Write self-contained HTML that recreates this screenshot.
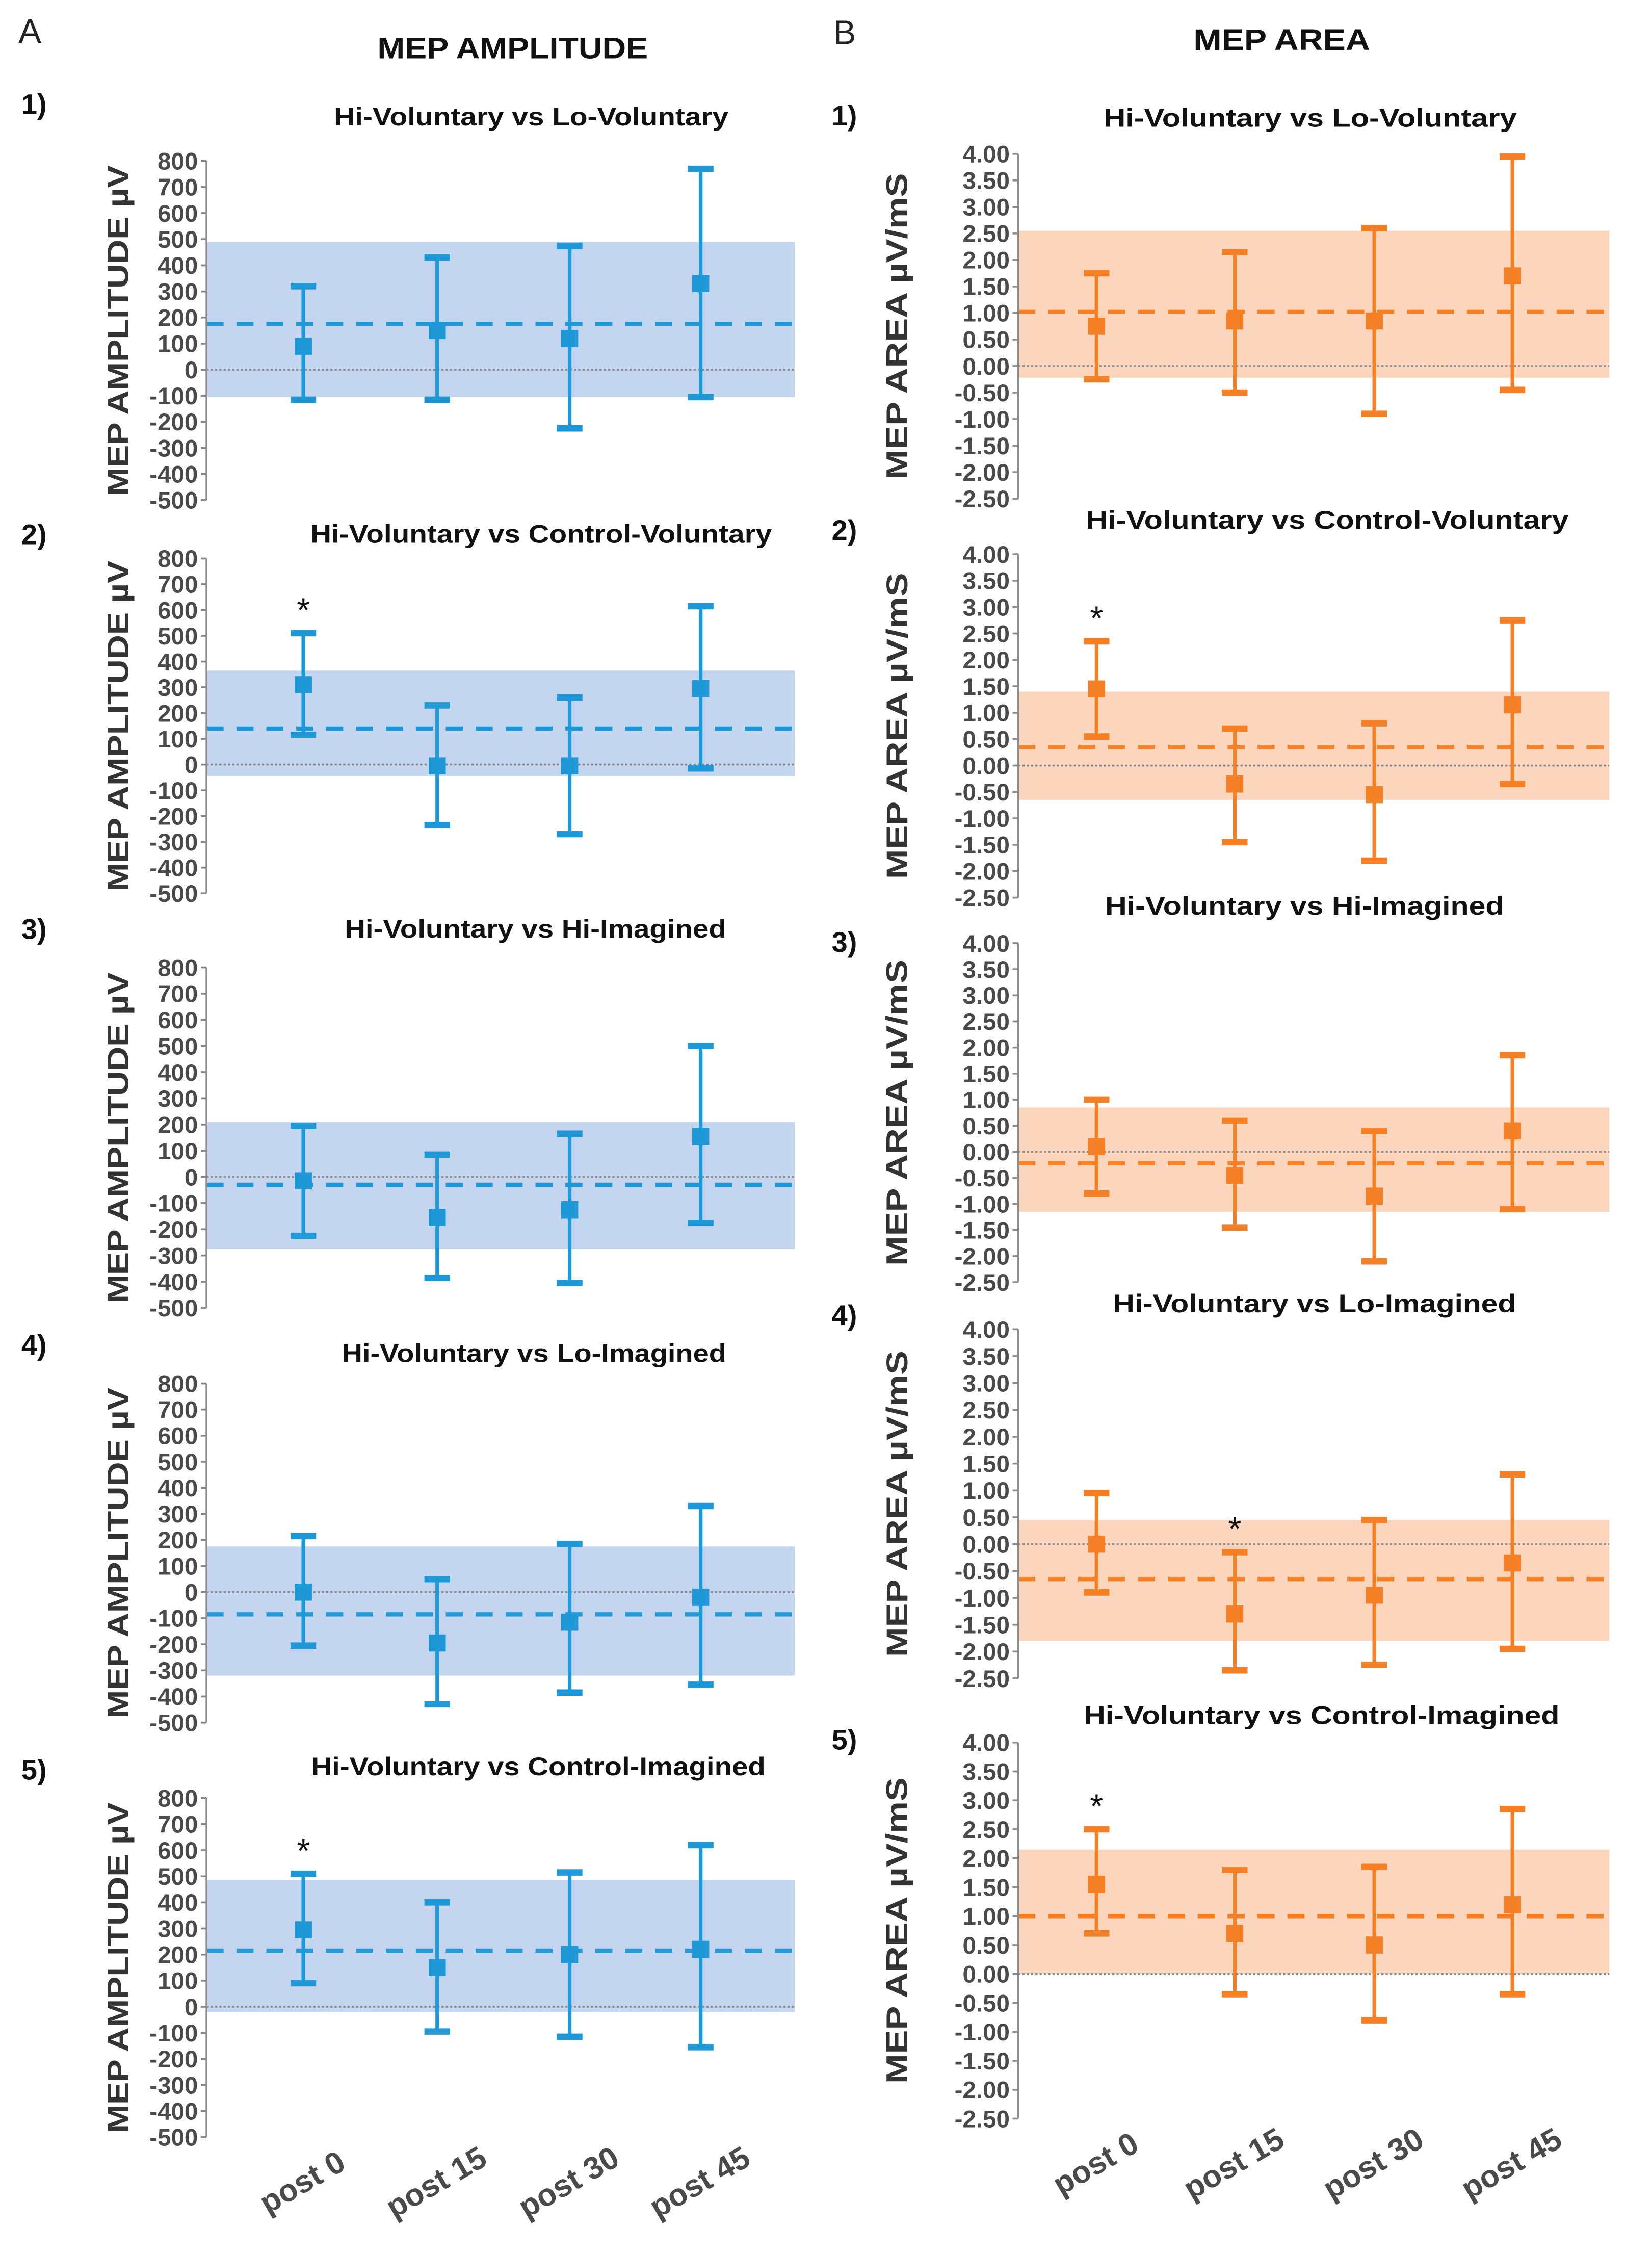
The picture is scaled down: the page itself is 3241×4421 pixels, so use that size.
<!DOCTYPE html>
<html><head><meta charset="utf-8"><style>
html,body{margin:0;padding:0;background:#fff;}
svg{display:block;}
text{font-family:"Liberation Sans",sans-serif;}
</style></head><body>
<svg id="fig" width="3241" height="4421" viewBox="0 0 1160 1582" preserveAspectRatio="none" xmlns="http://www.w3.org/2000/svg">
<text x="13" y="30" font-size="24" fill="#222">A</text>
<text x="360" y="41" font-size="21" font-weight="bold" text-anchor="middle" textLength="190" lengthAdjust="spacingAndGlyphs" fill="#111">MEP AMPLITUDE</text>
<text x="585" y="31" font-size="24" fill="#222">B</text>
<text x="900" y="35" font-size="21" font-weight="bold" text-anchor="middle" textLength="124" lengthAdjust="spacingAndGlyphs" fill="#111">MEP AREA</text>
</svg>
<script>
const categories = ["post 0","post 15","post 30","post 45"];
const titles = ["Hi-Voluntary vs Lo-Voluntary","Hi-Voluntary vs Control-Voluntary","Hi-Voluntary vs Hi-Imagined","Hi-Voluntary vs Lo-Imagined","Hi-Voluntary vs Control-Imagined"];
const ampTicks = [800,700,600,500,400,300,200,100,0,-100,-200,-300,-400,-500];
const areaTicks = [4,3.5,3,2.5,2,1.5,1,0.5,0,-0.5,-1,-1.5,-2,-2.5];
const ampMeans = [[90,150,120,330],[310,-5,-5,295],[-15,-155,-125,155],[0,-195,-115,-20],[295,150,200,220]];
const ampUpper = [[320,430,475,770],[510,230,260,615],[195,85,165,500],[215,50,185,330],[510,400,515,620]];
const ampLower = [[-115,-115,-225,-105],[115,-235,-270,-15],[-225,-385,-405,-175],[-205,-430,-385,-355],[90,-95,-115,-155]];
const ampBandHi = [490,365,210,175,485];
const ampBandLo = [-105,-45,-275,-320,-20];
const ampMeanLine = [175,140,-30,-85,215];
const ampStars = [[],[0],[],[],[0]];
const areaMeans = [[0.75,0.85,0.85,1.70],[1.45,-0.35,-0.55,1.15],[0.10,-0.45,-0.85,0.40],[0.00,-1.30,-0.95,-0.35],[1.55,0.70,0.50,1.20]];
const areaUpper = [[1.75,2.15,2.60,3.95],[2.35,0.70,0.80,2.75],[1.00,0.60,0.40,1.85],[0.95,-0.15,0.45,1.30],[2.50,1.80,1.85,2.85]];
const areaLower = [[-0.25,-0.50,-0.90,-0.45],[0.55,-1.45,-1.80,-0.35],[-0.80,-1.45,-2.10,-1.10],[-0.90,-2.35,-2.25,-1.95],[0.70,-0.35,-0.80,-0.35]];
const areaBandHi = [2.55,1.40,0.85,0.45,2.15];
const areaBandLo = [-0.22,-0.65,-1.15,-1.80,0.00];
const areaMeanLine = [1.02,0.35,-0.22,-0.65,1.00];
const areaStars = [[],[0],[],[1],[0]];

const NS="http://www.w3.org/2000/svg";
const svg=document.getElementById('fig');
function mk(tag,attrs,parent){const e=document.createElementNS(NS,tag);for(const k in attrs)e.setAttribute(k,attrs[k]);(parent||svg).appendChild(e);return e;}

const A={axisX:145,right:558,cx:[213,307,400,492],tops:[113,392,679,971,1262],bots:[351,627,918,1209,1500],
 titleY:[88,381,658,956,1246],titleX:[373,380,376,375,378],titleW:[277,324,268,270,319],
 numY:[80,382,659,951,1249],numX:15,yTitleX:90,yTitle:"MEP AMPLITUDE  µV",yTitleLen:232,
 color:"#1e98d6",band:"#c4d6ef",ticks:ampTicks,means:ampMeans,up:ampUpper,lo:ampLower,bHi:ampBandHi,bLo:ampBandLo,ml:ampMeanLine,stars:ampStars,fmt:v=>String(v),key:"amp",starOff:22};
const B={axisX:715,right:1130,cx:[770,867,965,1062],tops:[108,389,662,933,1223],bots:[350,630,900,1178,1487],
 titleY:[89,371,642,921,1210],titleX:[920,932,916,923,928],titleW:[290,339,280,283,334],
 numY:[88,379,668,930,1228],numX:584,yTitleX:637,yTitle:"MEP AREA  µV/mS",yTitleLen:215,
 color:"#f58026",band:"#fcd6bc",ticks:areaTicks,means:areaMeans,up:areaUpper,lo:areaLower,bHi:areaBandHi,bLo:areaBandLo,ml:areaMeanLine,stars:areaStars,fmt:v=>v.toFixed(2),key:"area",starOff:22};

function drawCol(C){
 for(let p=0;p<5;p++){
  const g=mk('g',{});
  
  
  const top=C.tops[p],bot=C.bots[p];
  const vmax=C.ticks[0],vmin=C.ticks[C.ticks.length-1];
  const y=v=>top+(vmax-v)/(vmax-vmin)*(bot-top);
  const x=i=>C.cx[i];
  const band=mk('rect',{x:C.axisX,y:y(C.bHi[p]),width:C.right-C.axisX,height:y(C.bLo[p])-y(C.bHi[p]),fill:C.band},g);
  
  
  const zl=mk('line',{x1:C.axisX,x2:C.right,y1:y(0),y2:y(0),stroke:"#8a8a8a","stroke-width":1.3,"stroke-dasharray":"1.5,1.5"},g);
  
  
  const ml=mk('line',{x1:C.axisX,x2:C.right,y1:y(C.ml[p]),y2:y(C.ml[p]),stroke:C.color,"stroke-width":3,"stroke-dasharray":"12,9"},g);
  
  
  const ax=mk('line',{x1:C.axisX,x2:C.axisX,y1:top,y2:bot,stroke:"#8c8c8c","stroke-width":1.3},g);
  
  
  C.ticks.forEach(t=>{
   mk('line',{x1:C.axisX-4,x2:C.axisX,y1:y(t),y2:y(t),stroke:"#8c8c8c","stroke-width":1.3},g);
   const tl=mk('text',{x:C.axisX-6,y:y(t)+6,"font-size":17,"font-weight":"bold","text-anchor":"end",fill:"#4a4a4a"},g);
   tl.textContent=C.fmt(t);
   
   
  });
  for(let i=0;i<4;i++){
   const eb=mk('g',{},g);
   
   
   mk('line',{x1:x(i),x2:x(i),y1:y(C.up[p][i]),y2:y(C.lo[p][i]),stroke:C.color,"stroke-width":2.6},eb);
   mk('line',{x1:x(i)-9,x2:x(i)+9,y1:y(C.up[p][i]),y2:y(C.up[p][i]),stroke:C.color,"stroke-width":4.5},eb);
   mk('line',{x1:x(i)-9,x2:x(i)+9,y1:y(C.lo[p][i]),y2:y(C.lo[p][i]),stroke:C.color,"stroke-width":4.5},eb);
   const pt=mk('rect',{x:x(i)-6,y:y(C.means[p][i])-6,width:12,height:12,fill:C.color},eb);
   
   
  }
  C.stars[p].forEach(i=>{
   const s=mk('text',{x:x(i),y:y(C.up[p][i])-C.starOff+14,"font-size":24,"text-anchor":"middle",fill:"#111"},g);
   s.textContent="*";
   
   
  });
  const tt=mk('text',{x:C.titleX[p],y:C.titleY[p],"font-size":18,"font-weight":"bold","text-anchor":"middle",fill:"#111",textLength:C.titleW[p],lengthAdjust:"spacingAndGlyphs"},g);
  tt.textContent=titles[p];
  
  
  const nm=mk('text',{x:C.numX,y:C.numY[p],"font-size":20,"font-weight":"bold",fill:"#111"},g);
  nm.textContent=(p+1)+")";
  
  
  const cy=(top+bot)/2;
  const yt=mk('text',{x:C.yTitleX,y:cy,"font-size":21,"font-weight":"bold","text-anchor":"middle",fill:"#333",transform:`rotate(-90 ${C.yTitleX} ${cy})`,textLength:C.yTitleLen,lengthAdjust:"spacingAndGlyphs"},g);
  yt.textContent=C.yTitle;
  
  
  if(p===4){
   for(let i=0;i<4;i++){
    const lx=x(i)+3,ly=bot+38;
    const xl=mk('text',{x:lx,y:ly,"font-size":22,"font-weight":"bold","text-anchor":"middle",fill:"#4a4a4a",transform:`rotate(-30 ${lx} ${ly})`},g);
    xl.textContent=categories[i];
    
    
   }
  }
 }
}
drawCol(A);drawCol(B);
</script>
</body></html>
